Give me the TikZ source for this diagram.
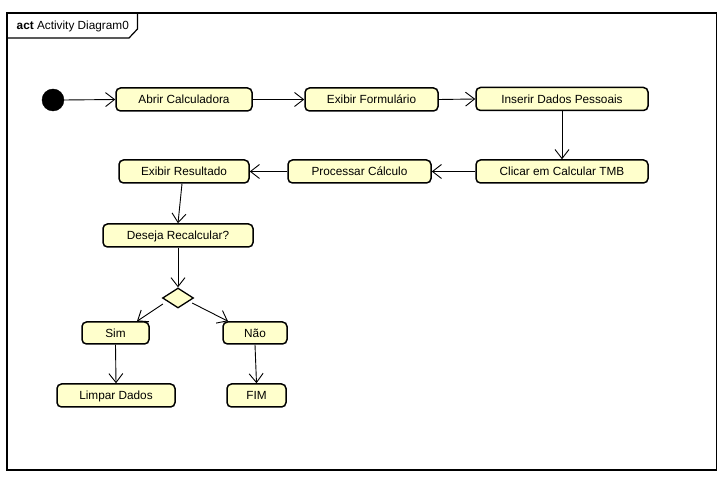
\documentclass[tikz,border=0pt]{standalone}
\usepackage{fontspec}
\setmainfont{Liberation Sans}
\usetikzlibrary{arrows.meta,shapes.geometric,calc}
\definecolor{actfill}{RGB}{255,255,204}
\tikzset{
  actbox/.style={draw=black, line width=1.5pt, fill=actfill, rounded corners=4.5pt,
    inner sep=0pt, font=\fontsize{11.8}{13}\selectfont, text depth=0pt},
  conn/.style={draw=black, line width=0.9pt, -{Straight Barb[length=9pt,width=14pt,line width=0.9pt]}},
  decision/.style={draw=black, line width=1.3pt, fill=actfill, diamond, inner sep=0pt, minimum width=31pt, minimum height=20pt, aspect=1.55},
}
\begin{document}
\begin{tikzpicture}[x=1pt,y=-1pt]
\useasboundingbox (0,0) rectangle (724,478);
% frame
\draw[line width=1.2pt] (7,13) rectangle (716.5,470);
\draw[line width=1.2pt] (7,38) -- (129,38) -- (137.5,29) -- (137.5,13);
\node[anchor=west, inner sep=0pt, font=\fontsize{11.8}{13}\selectfont] (title) at (16.5,26) {\textbf{act} Activity Diagram0};
% nodes
\node[circle, fill=black, draw=black, minimum size=22pt, inner sep=0pt] (init) at (53,100) {};
\node[actbox, minimum width=136pt, minimum height=23pt] (abrir) at (184,99.5) {Abrir Calculadora};
\node[actbox, minimum width=133pt, minimum height=23pt] (exform) at (371.5,99.5) {Exibir Formulário};
\node[actbox, minimum width=172pt, minimum height=23pt] (inserir) at (562,99) {Inserir Dados Pessoais};
\node[actbox, minimum width=172pt, minimum height=23pt] (clicar) at (562,171.5) {Clicar em Calcular TMB};
\node[actbox, minimum width=143pt, minimum height=23pt] (proc) at (359.5,171.5) {Processar Cálculo};
\node[actbox, minimum width=130pt, minimum height=23pt] (exres) at (184,171.5) {Exibir Resultado};
\node[actbox, minimum width=150pt, minimum height=23pt] (deseja) at (178,235.5) {Deseja Recalcular?};
\node[decision] (dec) at (178,298) {};
\node[actbox, minimum width=67pt, minimum height=22pt] (sim) at (115.5,333) {Sim};
\node[actbox, minimum width=64pt, minimum height=22pt] (nao) at (255,333) {Não};
\node[actbox, minimum width=118pt, minimum height=23pt] (limpar) at (116,395.5) {Limpar Dados};
\node[actbox, minimum width=59pt, minimum height=23pt] (fim) at (256.5,395.5) {FIM};
% connectors
\draw[conn] (init.east) -- (abrir.west);
\draw[conn] (abrir.east) -- (exform.west);
\draw[conn] (exform.east) -- (inserir.west);
\draw[conn] (inserir.south) -- (clicar.north);
\draw[conn] (clicar.west) -- (proc.east);
\draw[conn] (proc.west) -- (exres.east);
\draw[conn] ($(exres.south)+(-2,0)$) -- (deseja.north);
\draw[conn] (deseja.south) -- (dec.north);
\draw[conn] ($(dec.west)+(1,6)$) -- ($(sim.north)+(21.5,0)$);
\draw[conn] ($(dec.east)+(-2,5)$) -- ($(nao.north)+(-27,0)$);
\draw[conn] (sim.south) -- (limpar.north);
\draw[conn] (nao.south) -- (fim.north);
\end{tikzpicture}
\end{document}
